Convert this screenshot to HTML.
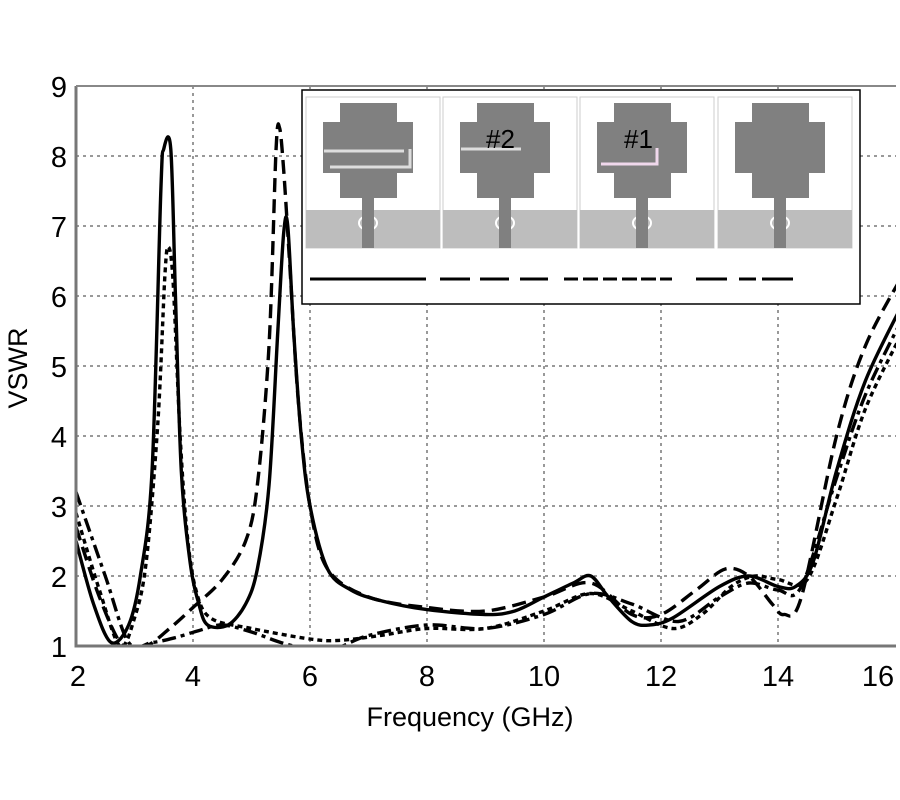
<!DOCTYPE html>
<html><head><meta charset="utf-8"><style>
html,body{margin:0;padding:0;background:#fff;}
svg{display:block;font-family:"Liberation Sans",sans-serif;}
</style></head><body>
<svg id="s" width="900" height="800" viewBox="0 0 900 800">
<defs><clipPath id="c"><rect x="76" y="86" width="820" height="560"/></clipPath></defs>
<rect width="900" height="800" fill="#fff"/>
<g id="grid" stroke="#999" stroke-width="2" stroke-dasharray="3,4"></g>
<g id="curves" clip-path="url(#c)" fill="none" stroke="#000" stroke-width="3.4" stroke-linejoin="round"></g>
<path d="M76 86 V646 H896" fill="none" stroke="#777" stroke-width="3"/>
<line x1="76" y1="86" x2="896" y2="86" stroke="#888" stroke-width="2"/>
<g font-size="29" text-anchor="end" fill="#000" id="yl"></g>
<g font-size="29" text-anchor="middle" fill="#000" id="xl"></g>
<text x="470" y="726" font-size="27" text-anchor="middle">Frequency (GHz)</text>
<text x="27" y="368" font-size="27" text-anchor="middle" transform="rotate(-90 27 368)">VSWR</text>
<g id="inset">
<rect x="302" y="90" width="558" height="214" fill="#fff" stroke="#000" stroke-width="1.5"/>
</g>
</svg>
<script>
var X=f=>76+(f-2)*58.5, Y=v=>646-70*(v-1);
var g=document.getElementById('grid'),ns='http://www.w3.org/2000/svg';
function el(p,t,a,txt){var e=document.createElementNS(ns,t);for(var k in a)e.setAttribute(k,a[k]);if(txt!==undefined)e.textContent=txt;p.appendChild(e);return e;}
for(var f=4;f<=14;f+=2)el(g,'line',{x1:X(f),y1:86,x2:X(f),y2:646});
for(var v=2;v<=8;v++)el(g,'line',{x1:76,y1:Y(v),x2:896,y2:Y(v)});
var yl=document.getElementById('yl');for(var v=1;v<=9;v++)el(yl,'text',{x:67,y:Y(v)+11},v);
var xl=document.getElementById('xl');for(var f=2;f<=16;f+=2)el(xl,'text',{x:f==16?878:X(f)+(f==2?2:0),y:686},f);
function path(pts){var P=pts.map(p=>[X(p[0]),Y(p[1])]);
var d='M'+P[0][0]+' '+P[0][1];
for(var i=0;i<P.length-1;i++){var p0=P[Math.max(0,i-1)],p1=P[i],p2=P[i+1],p3=P[Math.min(P.length-1,i+2)];
var t=0.16;d+=' C'+(p1[0]+(p2[0]-p0[0])*t)+' '+(p1[1]+(p2[1]-p0[1])*t)+' '+(p2[0]-(p3[0]-p1[0])*t)+' '+(p2[1]-(p3[1]-p1[1])*t)+' '+p2[0]+' '+p2[1];}
return d;}
var C=document.getElementById('curves');
var A=[[2,2.5],[2.3,1.6],[2.6,1.05],[2.9,1.3],[3.1,2],[3.3,3.5],[3.45,7.5],[3.5,8.1],[3.62,8.1],[3.7,6],[3.8,3.5],[3.95,2.2],[4.1,1.6],[4.25,1.3],[4.6,1.3],[4.9,1.6],[5.1,2.1],[5.3,3.3],[5.45,5.5],[5.55,6.9],[5.62,7.0],[5.72,5.5],[5.85,4],[6,3],[6.3,2.1],[6.7,1.8],[7.2,1.65],[8,1.52],[9,1.45],[9.5,1.5],[10,1.7],[10.5,1.9],[10.8,2.0],[11.1,1.7],[11.5,1.35],[11.8,1.3],[12.2,1.4],[13,1.85],[13.5,2.0],[14,1.85],[14.3,1.85],[14.6,2.2],[15,3.5],[15.5,4.8],[16.2,6.0]];
var B=[[2,2.7],[2.4,1.7],[2.8,1.0],[3.2,1.0],[3.6,1.25],[4,1.55],[4.5,1.95],[4.9,2.5],[5.1,3.3],[5.3,5.3],[5.42,8.1],[5.48,8.4],[5.55,7.8],[5.65,6.5],[5.8,4.5],[6.0,3.0],[6.3,2.1],[7,1.7],[8,1.55],[9,1.5],[10,1.7],[10.8,1.9],[11.5,1.45],[12,1.45],[12.6,1.8],[13.1,2.1],[13.5,2.0],[13.9,1.6],[14.1,1.45],[14.4,1.7],[15,4],[15.5,5.3],[16.2,6.4]];
var Cc=[[2,2.9],[2.4,1.8],[2.75,1.0],[3.0,1.4],[3.2,2.2],[3.4,4.2],[3.52,6.3],[3.58,6.7],[3.66,6.2],[3.78,4],[3.9,2.6],[4.05,1.8],[4.3,1.4],[5,1.25],[6,1.1],[6.5,1.08],[7.2,1.15],[8,1.25],[9,1.25],[10,1.5],[10.8,1.75],[11.5,1.5],[12.2,1.25],[12.7,1.45],[13.2,1.85],[13.6,2.0],[14,1.95],[14.5,1.95],[15,3.1],[15.5,4.4],[16.2,5.6]];
var D=[[2,3.2],[2.5,2.0],[2.9,1.05],[3.3,1.05],[3.7,1.12],[4.1,1.22],[4.5,1.3],[5,1.2],[5.5,1.05],[6,0.95],[6.4,0.95],[7,1.15],[8,1.3],[9,1.25],[10,1.45],[10.8,1.75],[11.5,1.6],[12.3,1.35],[13,1.7],[13.5,1.9],[14,1.8],[14.4,1.85],[15,3.4],[15.5,4.6],[16.2,5.8]];
el(C,'path',{d:path(A)});
el(C,'path',{d:path(B),'stroke-dasharray':'14,7'});
el(C,'path',{d:path(Cc),'stroke-dasharray':'5,4'});
el(C,'path',{d:path(D),'stroke-dasharray':'14,5,4,5'});
var I=document.getElementById('inset');
[306,443,580,718].forEach(function(x0,i){
el(I,'rect',{x:x0,y:97,width:134,height:151,fill:'#fff',stroke:'#ccc','stroke-width':1});
el(I,'rect',{x:x0,y:210,width:134,height:38,fill:'#bdbdbd'});
el(I,'rect',{x:x0+34,y:103,width:57,height:95,fill:'#808080'});
el(I,'rect',{x:x0+17,y:122,width:90,height:51,fill:'#808080'});
el(I,'rect',{x:x0+56,y:198,width:12,height:50,fill:'#808080'});
el(I,'ellipse',{cx:x0+62,cy:223,rx:9,ry:7,fill:'none',stroke:'#fff','stroke-width':2});
el(I,'rect',{x:x0+56,y:214,width:12,height:34,fill:'#808080'});
});
el(I,'path',{d:'M324 151 H404 M330 167 H410 V149',stroke:'#ddd','stroke-width':3,fill:'none'});
el(I,'path',{d:'M461 149 H521',stroke:'#ddd','stroke-width':3,fill:'none'});
el(I,'path',{d:'M601 164 H657 V148',stroke:'#f0d8ec','stroke-width':3,fill:'none'});
el(I,'text',{x:486,y:148,'font-size':26},'#2');
el(I,'text',{x:624,y:148,'font-size':26},'#1');
el(I,'line',{x1:310,y1:279,x2:426,y2:279,stroke:'#000','stroke-width':3});
el(I,'path',{d:'M440 279H470M480 279H509M520 279H548',stroke:'#000','stroke-width':3});
el(I,'path',{d:'M564 279H578M583 279H598M603 279H617M622 279H637M641 279H656M660 279H672',stroke:'#000','stroke-width':3});
el(I,'path',{d:'M696 279H727M739 279H756M762 279H793',stroke:'#000','stroke-width':3});
</script>
</body></html>
